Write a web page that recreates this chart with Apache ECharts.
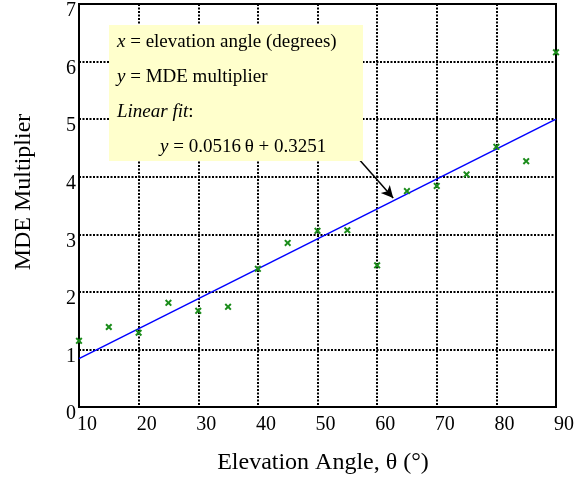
<!DOCTYPE html>
<html>
<head>
<meta charset="utf-8">
<script src="https://cdn.jsdelivr.net/npm/echarts@6/dist/echarts.min.js"></script>
<style>
html,body{margin:0;padding:0;background:#fff;}
#c{width:587px;height:480px;}
</style>
</head>
<body>
<div id="c"></div>
<script>
// Data
var angles = [10, 15, 20, 25, 30, 35, 40, 45, 50, 55, 60, 65, 70, 75, 80, 85, 90];
var mdeMultiplier = [1.15, 1.39, 1.29, 1.81, 1.67, 1.74, 2.40, 2.85, 3.06, 3.07, 2.46, 3.75, 3.84, 4.04, 4.52, 4.27, 6.16];
var fitX = [10, 90];
var fitY = [0.84, 5.0];
var xTicks = [10, 20, 30, 40, 50, 60, 70, 80, 90];
var yTicks = [0, 1, 2, 3, 4, 5, 6, 7];
var arrowFrom = [57.0, 4.30];
var arrowTo = [62.7, 3.63];
var noteLines = ['{i|x} = elevation angle (degrees)', '{i|y} = MDE multiplier', '{i|Linear fit}:', '{i|y} = 0.0516\u2009\u03b8 + 0.3251'];
var xName = 'Elevation Angle, \u03b8 (\u00b0)';
var yName = 'MDE Multiplier';

var serif = '"Liberation Serif", "Times New Roman", serif';
var scatterData = angles.map(function (a, i) { return [a, mdeMultiplier[i]]; });
var fitData = fitX.map(function (a, i) { return [a, fitY[i]]; });

var chart = echarts.init(document.getElementById('c'), null, { renderer: 'canvas' });
var rich = { i: { fontStyle: 'italic', fontFamily: serif, fontSize: 19, color: '#000' } };
var noteGraphics = noteLines.map(function (t, i) {
  return {
    type: 'text',
    x: i === 3 ? 160 : 117,
    y: 42 + i * 35,
    z: 101,
    style: {
      text: t,
      rich: rich,
      fontFamily: serif,
      fontSize: 19,
      fill: '#000',
      textVerticalAlign: 'middle',
      verticalAlign: 'middle'
    }
  };
});

var option = {
  animation: false,
  backgroundColor: '#fff',
  grid: {
    left: 79, right: 31, top: 4, bottom: 73,
    show: true, borderColor: '#000', borderWidth: 2, backgroundColor: 'transparent',
    containLabel: false, outerBoundsMode: 'none'
  },
  xAxis: {
    type: 'value', min: 10, max: 90, interval: 10,
    axisLine: { show: true, lineStyle: { color: '#000', width: 2 } },
    axisTick: { show: false },
    splitLine: { show: true, lineStyle: { color: '#000', width: 2, type: [2, 1.5] } },
    axisLabel: {
      color: '#000', fontFamily: serif, fontSize: 20, margin: 8,
      padding: [0, 0, 0, 16],
      customValues: xTicks
    }
  },
  yAxis: {
    type: 'value', min: 0, max: 7, interval: 1,
    axisLine: { show: true, lineStyle: { color: '#000', width: 2 } },
    axisTick: { show: false },
    splitLine: { show: true, lineStyle: { color: '#000', width: 2, type: [2, 1.5] } },
    axisLabel: {
      color: '#000', fontFamily: serif, fontSize: 20, margin: 3,
      verticalAlign: 'top', lineHeight: 14,
      customValues: yTicks
    }
  },
  series: [
    {
      type: 'line',
      data: fitData,
      symbol: 'none',
      lineStyle: { color: '#0000ff', width: 1.5 },
      z: 3,
      markLine: {
        silent: true,
        symbol: ['none', 'arrow'],
        symbolSize: [9, 12],
        label: { show: false },
        lineStyle: { color: '#000', width: 1.5, type: 'solid' },
        data: [[{ coord: arrowFrom }, { coord: arrowTo }]],
        z: 4
      }
    },
    {
      type: 'scatter',
      data: scatterData,
      symbol: 'path://M0,2 L2,0 L5,3 L8,0 L10,2 L7,5 L10,8 L8,10 L5,7 L2,10 L0,8 L3,5 Z',
      symbolSize: 7,
      itemStyle: { color: '#1a8c1a', opacity: 1 },
      z: 5
    }
  ],
  graphic: [
    {
      type: 'rect', x: 109, y: 25, z: 100,
      shape: { width: 254, height: 136 },
      style: { fill: '#ffffcc' }
    }
  ].concat(noteGraphics).concat([
    {
      type: 'text', x: 323, y: 463, z: 101,
      style: { text: xName, fontFamily: serif, fontSize: 24, fill: '#000', textAlign: 'center', textVerticalAlign: 'middle', align: 'center', verticalAlign: 'middle' }
    },
    {
      type: 'text', x: 24, y: 192, rotation: Math.PI / 2, z: 101,
      style: { text: yName, fontFamily: serif, fontSize: 24, fill: '#000', textAlign: 'center', textVerticalAlign: 'middle', align: 'center', verticalAlign: 'middle' }
    }
  ])
};
chart.setOption(option);
</script>
</body>
</html>
